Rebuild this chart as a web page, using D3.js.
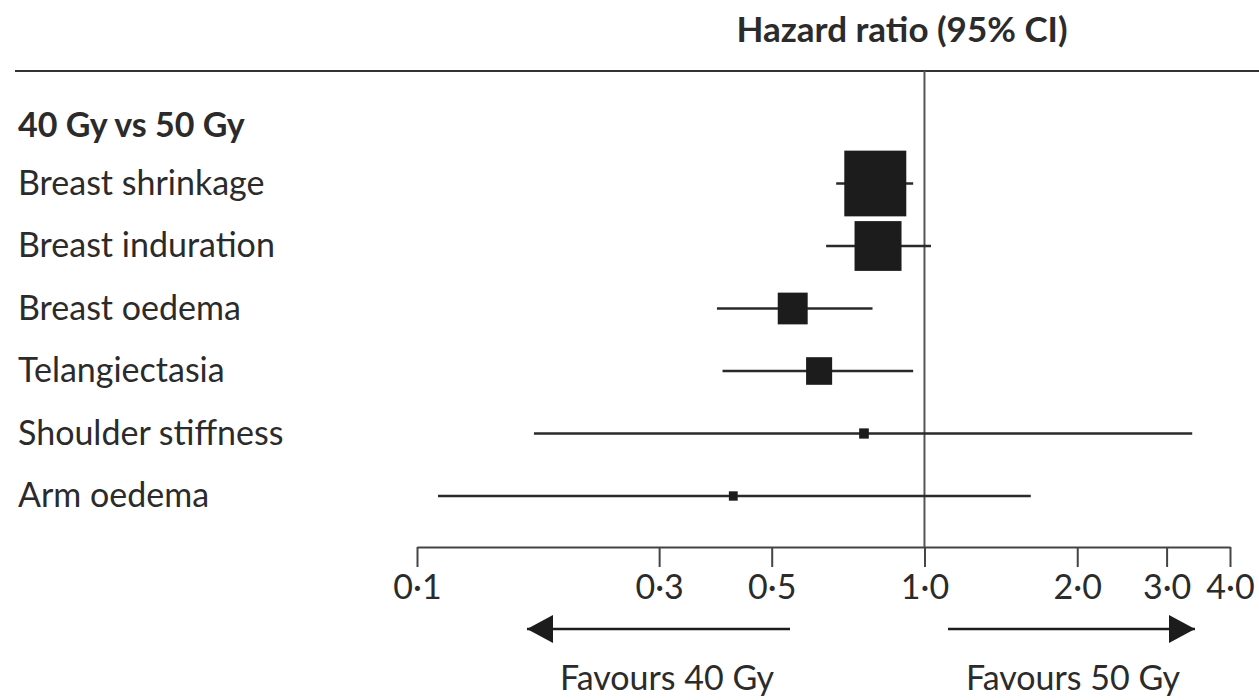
<!DOCTYPE html>
<html>
<head>
<meta charset="utf-8">
<script src="https://cdn.jsdelivr.net/npm/d3@7"></script>
<style>
  html, body { margin: 0; padding: 0; background: #fff; }
  svg { display: block; }
  text { font-family: Lato, "Open Sans", sans-serif; fill: #2b2b2b; }
</style>
</head>
<body>
<svg id="chart" width="1259" height="700"></svg>
<script>
// ---- data ----
const groupTitle = "40 Gy vs 50 Gy";
const outcomes = ["Breast shrinkage", "Breast induration", "Breast oedema", "Telangiectasia", "Shoulder stiffness", "Arm oedema"];
const hr      = [0.80, 0.81, 0.55, 0.62, 0.76, 0.42];
const ciLow   = [0.67, 0.64, 0.39, 0.40, 0.17, 0.11];
const ciHigh  = [0.95, 1.03, 0.79, 0.95, 3.37, 1.62];
const weights = [49.3, 28.3, 11.5, 8.7, 1.2, 1.0];
const tickValues = [0.1, 0.3, 0.5, 1.0, 2.0, 3.0, 4.0];
const tickLabels = ["0·1", "0·3", "0·5", "1·0", "2·0", "3·0", "4·0"];
const headerText = "Hazard ratio (95% CI)";
const favourLeft = "Favours 40 Gy";
const favourRight = "Favours 50 Gy";

// ---- layout ----
const svg = d3.select("#chart");
const x = d3.scaleLog().domain([0.1, 4]).range([417, 1230]);
const y = d3.scaleLinear().domain([0, 6]).range([132, 507]); // text baselines
const size = d3.scaleSqrt().domain([0, d3.max(weights)]).range([0, 62]);
const axisY = 547;
const fontSize = 34;

// header
svg.append("text")
  .attr("x", 902).attr("y", 42)
  .attr("text-anchor", "middle")
  .style("font-size", "35px")
  .style("font-weight", "bold")
  .text(headerText);

svg.append("line")
  .attr("x1", 15).attr("x2", 1259).attr("y1", 71).attr("y2", 71)
  .attr("stroke", "#333").attr("stroke-width", 2);

// reference line at HR = 1
svg.append("line")
  .attr("x1", x(1)).attr("x2", x(1)).attr("y1", 71).attr("y2", axisY)
  .attr("stroke", "#555").attr("stroke-width", 2);

// group title
svg.append("text")
  .attr("x", 18).attr("y", y(0) + 5)
  .style("font-size", fontSize + "px")
  .style("font-weight", "bold")
  .text(groupTitle);

// row labels
svg.selectAll("text.label")
  .data(outcomes)
  .join("text")
  .attr("class", "label")
  .attr("x", 18)
  .attr("y", (d, i) => y(i + 1))
  .style("font-size", fontSize + "px")
  .text(d => d);

// CI lines
svg.selectAll("line.ci")
  .data(outcomes)
  .join("line")
  .attr("class", "ci")
  .attr("x1", (d, i) => x(ciLow[i]))
  .attr("x2", (d, i) => x(ciHigh[i]))
  .attr("y1", (d, i) => y(i + 1) - 11)
  .attr("y2", (d, i) => y(i + 1) - 11)
  .attr("stroke", "#2a2a2a").attr("stroke-width", 2.5);

// squares
svg.selectAll("rect.pt")
  .data(outcomes)
  .join("rect")
  .attr("class", "pt")
  .attr("x", (d, i) => x(hr[i]) - size(weights[i]) / 2)
  .attr("y", (d, i) => y(i + 1) - 11 - size(weights[i]) * 1.06 / 2)
  .attr("width", (d, i) => size(weights[i]))
  .attr("height", (d, i) => size(weights[i]) * 1.06)
  .attr("fill", "#1c1c1c");

// x axis
const axis = d3.axisBottom(x)
  .tickValues(tickValues)
  .tickFormat((d, i) => tickLabels[i])
  .tickSize(20)
  .tickPadding(10)
  .tickSizeOuter(0);

const gAxis = svg.append("g")
  .attr("transform", `translate(0,${axisY})`)
  .call(axis);
gAxis.select(".domain").attr("stroke", "#444").attr("stroke-width", 2);
gAxis.selectAll(".tick line").attr("stroke", "#444").attr("stroke-width", 2);
gAxis.selectAll(".tick text")
  .attr("fill", "#333")
  .style("font-family", "Lato, 'Open Sans', sans-serif")
  .style("font-size", fontSize + "px")
  .attr("y", 0)
  .attr("dy", null)
  .attr("transform", "translate(0,52)");

// favour arrows
const defs = svg.append("defs");
defs.append("marker")
  .attr("id", "arrowhead")
  .attr("viewBox", "0 0 26 28")
  .attr("refX", 26).attr("refY", 14)
  .attr("markerWidth", 26).attr("markerHeight", 28)
  .attr("markerUnits", "userSpaceOnUse")
  .attr("orient", "auto")
  .append("path")
  .attr("d", "M0,0 L26,14 L0,28 Z")
  .attr("fill", "#1c1c1c");

const arrowY = 629;
svg.append("line")
  .attr("x1", 790).attr("x2", 527).attr("y1", arrowY).attr("y2", arrowY)
  .attr("stroke", "#1c1c1c").attr("stroke-width", 2.5)
  .attr("marker-end", "url(#arrowhead)");
svg.append("line")
  .attr("x1", 948).attr("x2", 1195).attr("y1", arrowY).attr("y2", arrowY)
  .attr("stroke", "#1c1c1c").attr("stroke-width", 2.5)
  .attr("marker-end", "url(#arrowhead)");

svg.append("text")
  .attr("x", 667).attr("y", 690)
  .attr("text-anchor", "middle")
  .style("font-size", fontSize + "px")
  .text(favourLeft);
svg.append("text")
  .attr("x", 1073).attr("y", 690)
  .attr("text-anchor", "middle")
  .style("font-size", fontSize + "px")
  .text(favourRight);
</script>
</body>
</html>
